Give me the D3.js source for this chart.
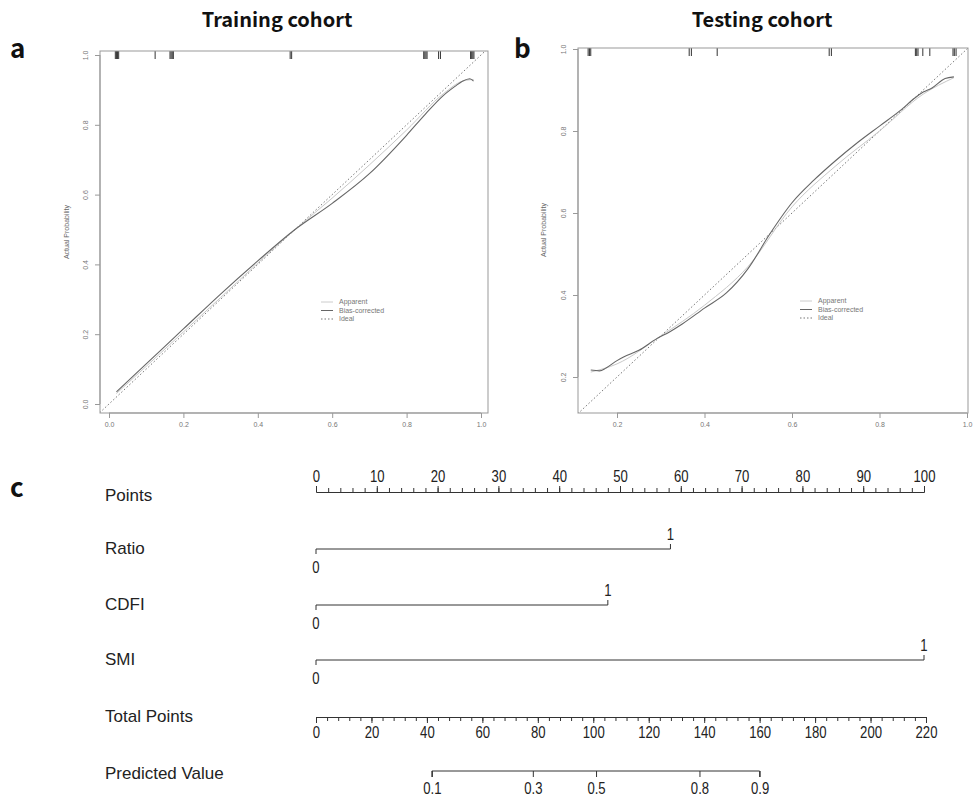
<!DOCTYPE html>
<html>
<head>
<meta charset="utf-8">
<script src="https://cdn.jsdelivr.net/npm/d3@7"></script>
<style>
body { margin: 0; background: #fff; }
text { font-family: "Liberation Sans", Arial, sans-serif; }
</style>
</head>
<body>
<div id="chart"></div>
<script>
// ---- panel a: training cohort calibration ----
const trainRug = [0.017, 0.02, 0.023, 0.026, 0.124, 0.164, 0.167, 0.17, 0.173, 0.487, 0.491,
	0.846, 0.849, 0.852, 0.855, 0.886, 0.891, 0.972, 0.975, 0.978, 0.981];
const trainBias = [[0.02, 0.035], [0.1, 0.115], [0.2, 0.215], [0.3, 0.315], [0.4, 0.41],
	[0.5, 0.5], [0.6, 0.575], [0.7, 0.66], [0.8, 0.77], [0.85, 0.83], [0.9, 0.885],
	[0.93, 0.91], [0.95, 0.925], [0.97, 0.932], [0.98, 0.925]];
const trainApparent = [[0.02, 0.03], [0.1, 0.108], [0.3, 0.305], [0.5, 0.5], [0.6, 0.59],
	[0.7, 0.685], [0.8, 0.785], [0.9, 0.89], [0.95, 0.925], [0.98, 0.93]];
const trainTicks = [0, 0.2, 0.4, 0.6, 0.8, 1.0];

// ---- panel b: testing cohort calibration ----
const testRug = [0.134, 0.137, 0.14, 0.365, 0.37, 0.429, 0.685, 0.69, 0.882, 0.885, 0.888,
	0.899, 0.915, 0.968, 0.971, 0.975];
const testBias = [[0.14, 0.217], [0.16, 0.215], [0.175, 0.222], [0.2, 0.24], [0.215, 0.249],
	[0.25, 0.265], [0.29, 0.293], [0.32, 0.31], [0.35, 0.33], [0.4, 0.368], [0.45, 0.405],
	[0.5, 0.465], [0.55, 0.55], [0.6, 0.625], [0.65, 0.68], [0.7, 0.728], [0.75, 0.772],
	[0.8, 0.812], [0.85, 0.852], [0.88, 0.88], [0.9, 0.895], [0.92, 0.905], [0.95, 0.928],
	[0.97, 0.932]];
const testApparent = [[0.14, 0.212], [0.2, 0.232], [0.3, 0.3], [0.4, 0.375], [0.5, 0.47],
	[0.6, 0.615], [0.7, 0.715], [0.8, 0.8], [0.9, 0.89], [0.97, 0.93]];
const testTicks = [0.2, 0.4, 0.6, 0.8, 1.0];

const legendNames = ['Apparent', 'Bias-corrected', 'Ideal'];

// ---- panel c: nomogram ----
const nomoVars = ['Ratio', 'CDFI', 'SMI'];
const nomoPoints = [58.3, 48, 100]; // points for level "1" (level "0" = 0)
const predValues = [0.1, 0.3, 0.5, 0.8, 0.9];
const predTotal = [41.8, 78.2, 101, 138.3, 160]; // total points where each prob sits

var W = 978, H = 799;
var svg = d3.select('#chart').append('svg')
	.attr('width', W)
	.attr('height', H);
svg.append('rect').attr('width', W).attr('height', H).attr('fill', '#fff');

function drawCalib(cfg) {
	var x = d3.scaleLinear().domain([0, 1]).range(cfg.xr);
	var y = d3.scaleLinear().domain([0, 1]).range(cfg.yr);
	var b = cfg.box;
	var g = svg.append('g');

	g.append('clipPath').attr('id', cfg.id)
		.append('rect').attr('x', b[0]).attr('y', b[1]).attr('width', b[2] - b[0]).attr('height', b[3] - b[1]);

	// ideal line
	var lo = Math.min(x.invert(b[0]), y.invert(b[3])) - 0.05;
	g.append('line')
		.attr('clip-path', 'url(#' + cfg.id + ')')
		.attr('x1', x(lo)).attr('y1', y(lo)).attr('x2', x(1.1)).attr('y2', y(1.1))
		.attr('stroke', '#777').attr('stroke-width', 1).attr('stroke-dasharray', '1.5,2.2');

	var line = d3.line().curve(d3.curveMonotoneX).x(d => x(d[0])).y(d => y(d[1]));
	g.append('path').datum(cfg.apparent).attr('d', line)
		.attr('fill', 'none').attr('stroke', '#c8c8c8').attr('stroke-width', 1);
	g.append('path').datum(cfg.bias).attr('d', line)
		.attr('fill', 'none').attr('stroke', '#666').attr('stroke-width', 1.1);

	// rug of predicted probabilities
	g.selectAll('.rug').data(cfg.rug).enter().append('line')
		.attr('x1', d => x(d)).attr('x2', d => x(d))
		.attr('y1', b[1]).attr('y2', b[1] + 8)
		.attr('stroke', '#333').attr('stroke-width', 1);

	// frame
	g.append('rect').attr('x', b[0]).attr('y', b[1]).attr('width', b[2] - b[0]).attr('height', b[3] - b[1])
		.attr('fill', 'none').attr('stroke', '#999').attr('stroke-width', 1);

	var xAxis = d3.axisBottom(x).tickValues(cfg.ticks).tickSize(5).tickSizeOuter(0).tickFormat(d3.format('.1f'));
	var xg = g.append('g').attr('transform', 'translate(0,' + b[3] + ')').call(xAxis);
	xg.select('.domain').attr('d', 'M' + x(cfg.ticks[0]) + ',0H' + x(1)).attr('stroke', '#999');
	xg.selectAll('.tick line').attr('stroke', '#999');
	xg.selectAll('text').attr('fill', '#777').attr('font-size', 7).attr('dy', '0.9em');

	var yAxis = d3.axisLeft(y).tickValues(cfg.ticks).tickSize(5).tickSizeOuter(0).tickFormat(d3.format('.1f'));
	var yg = g.append('g').attr('transform', 'translate(' + b[0] + ',0)').call(yAxis);
	yg.select('.domain').attr('d', 'M0,' + y(cfg.ticks[0]) + 'V' + y(1)).attr('stroke', '#999');
	yg.selectAll('.tick line').attr('stroke', '#999');
	yg.selectAll('text').attr('fill', '#777').attr('font-size', 7)
		.attr('x', 0).attr('dy', 0)
		.attr('text-anchor', 'middle')
		.attr('transform', 'translate(-12,0) rotate(-90)');

	g.append('text').text('Actual Probability')
		.attr('transform', 'translate(' + cfg.ylab[0] + ',' + cfg.ylab[1] + ') rotate(-90)')
		.attr('text-anchor', 'middle').attr('font-size', 7).attr('fill', '#666');

	// legend
	var lg = g.append('g').attr('transform', 'translate(' + cfg.legend[0] + ',' + cfg.legend[1] + ')');
	var sty = [{ c: '#ccc', d: null }, { c: '#666', d: null }, { c: '#777', d: '1.5,2' }];
	legendNames.forEach(function (n, i) {
		lg.append('line').attr('x1', 0).attr('x2', 12).attr('y1', i * 8.5).attr('y2', i * 8.5)
			.attr('stroke', sty[i].c).attr('stroke-dasharray', sty[i].d);
		lg.append('text').text(n).attr('x', 18).attr('y', i * 8.5).attr('dy', '0.35em')
			.attr('font-size', 7).attr('fill', '#777');
	});

	svg.append('text').text(cfg.title).attr('x', cfg.titlePos[0]).attr('y', cfg.titlePos[1])
		.attr('text-anchor', 'middle').attr('font-size', 20).attr('font-weight', 'bold')
		.style('font-family', '"Noto Sans CJK SC", "Noto Sans", sans-serif').attr('fill', '#111');
	svg.append('text').text(cfg.letter).attr('x', cfg.letterPos[0]).attr('y', cfg.letterPos[1])
		.attr('font-size', 26).attr('font-weight', 'bold')
		.style('font-family', '"Noto Sans CJK SC", "Noto Sans", sans-serif').attr('fill', '#111');
}

drawCalib({
	id: 'clipA', xr: [109, 481], yr: [404, 55], box: [100, 51, 488, 413],
	rug: trainRug, bias: trainBias, apparent: trainApparent, ticks: trainTicks,
	ylab: [69, 232], legend: [321, 302], title: 'Training cohort', titlePos: [277, 27],
	letter: 'a', letterPos: [10, 58]
});
drawCalib({
	id: 'clipB', xr: [529.5, 967], yr: [459, 49], box: [578, 48, 968, 413],
	rug: testRug, bias: testBias, apparent: testApparent, ticks: testTicks,
	ylab: [546, 230], legend: [800, 301], title: 'Testing cohort', titlePos: [762, 27],
	letter: 'b', letterPos: [514, 58]
});

// ---- nomogram ----
var nom = svg.append('g');
var xP = d3.scaleLinear().domain([0, 100]).range([316, 924]);
var xT = d3.scaleLinear().domain([0, 220]).range([316, 926]);
var fs = 17;   // row labels
var ns = 16;   // numbers, drawn condensed like the R output
var squeeze = 'scale(0.82,1)';
var labX = 105;

nom.append('text').text('c').attr('x', 10).attr('y', 497)
	.attr('font-size', 26).attr('font-weight', 'bold')
	.style('font-family', '"Noto Sans CJK SC", "Noto Sans", sans-serif').attr('fill', '#111');

function rowLabel(t, yy) {
	nom.append('text').text(t).attr('x', labX).attr('y', yy).attr('dy', '0.35em')
		.attr('font-size', fs).attr('fill', '#222');
}

function styleAxis(sel) {
	sel.selectAll('.domain').attr('stroke', '#333');
	sel.selectAll('.tick line').attr('stroke', '#333');
	sel.selectAll('text').attr('font-size', ns).attr('fill', '#222').attr('transform', squeeze);
}

function numLabel(t, xx, yy) {
	nom.append('text').text(t)
		.attr('transform', 'translate(' + xx + ',' + yy + ') ' + squeeze)
		.attr('text-anchor', 'middle').attr('font-size', ns).attr('fill', '#222');
}

// Points
rowLabel('Points', 495);
var pMinor = nom.append('g').attr('transform', 'translate(0,492)')
	.call(d3.axisTop(xP).tickValues(d3.range(0, 101, 2)).tickSize(4).tickSizeOuter(0).tickFormat(''));
var pMajor = nom.append('g').attr('transform', 'translate(0,492)')
	.call(d3.axisTop(xP).tickValues(d3.range(0, 101, 10)).tickSize(6).tickSizeOuter(0).tickPadding(4));
styleAxis(pMinor); styleAxis(pMajor);

// variable rows
var rowY = [549, 605, 660];
nomoVars.forEach(function (v, i) {
	var yy = rowY[i];
	rowLabel(v, yy - 1);
	var x1 = xP(0), x2 = xP(nomoPoints[i]);
	nom.append('line').attr('x1', x1).attr('x2', x2).attr('y1', yy).attr('y2', yy).attr('stroke', '#333');
	nom.append('line').attr('x1', x1).attr('x2', x1).attr('y1', yy).attr('y2', yy + 5).attr('stroke', '#333');
	nom.append('line').attr('x1', x2).attr('x2', x2).attr('y1', yy).attr('y2', yy - 5).attr('stroke', '#333');
	numLabel('1', x2, yy - 9);
	numLabel('0', x1, yy + 24);
});

// Total Points
rowLabel('Total Points', 716);
var tMinor = nom.append('g').attr('transform', 'translate(0,717)')
	.call(d3.axisBottom(xT).tickValues(d3.range(0, 221, 4)).tickSize(4).tickSizeOuter(0).tickFormat(''));
var tMajor = nom.append('g').attr('transform', 'translate(0,717)')
	.call(d3.axisBottom(xT).tickValues(d3.range(0, 221, 20)).tickSize(6).tickSizeOuter(0).tickPadding(4));
styleAxis(tMinor); styleAxis(tMajor);

// Predicted Value
rowLabel('Predicted Value', 773);
var predScale = d3.scaleOrdinal().domain(predValues).range(predTotal.map(xT));
var pv = nom.append('g').attr('transform', 'translate(0,771)')
	.call(d3.axisBottom(predScale).tickSize(6).tickSizeOuter(0).tickPadding(6));
pv.select('.domain').attr('d', 'M' + xT(predTotal[0]) + ',6V0H' + xT(predTotal[predTotal.length - 1]) + 'V6');
styleAxis(pv);
</script>
</body>
</html>
